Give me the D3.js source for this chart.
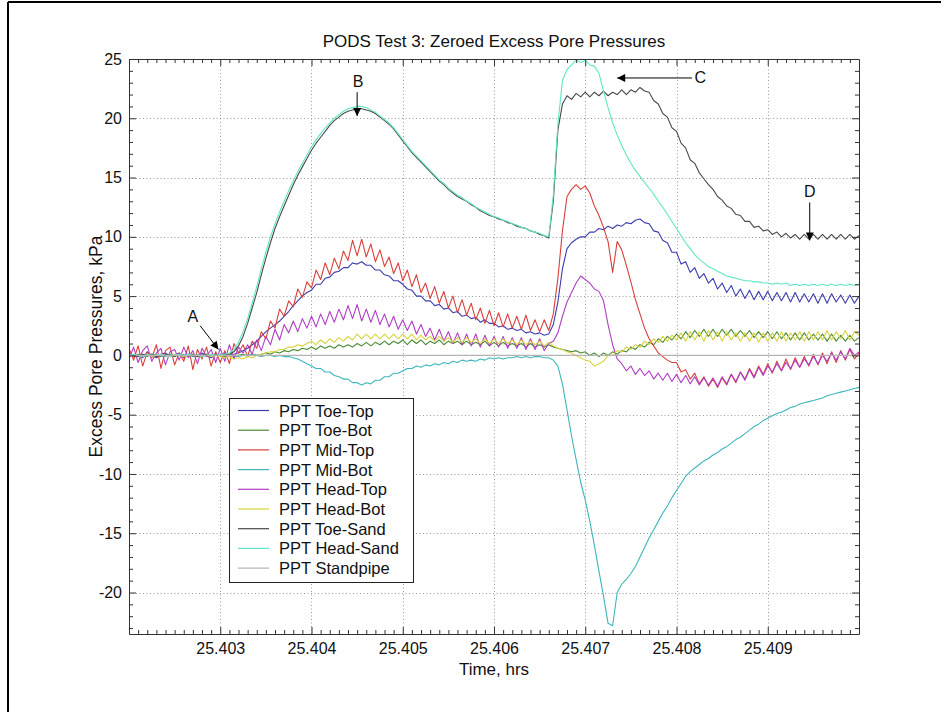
<!DOCTYPE html>
<html>
<head>
<meta charset="utf-8">
<script src="https://cdn.jsdelivr.net/npm/d3@7"></script>
<style>
  body { margin: 0; background: #fff; }
  svg text { font-family: Arial, "Liberation Sans", Helvetica, sans-serif; fill: #111; }
</style>
</head>
<body>
<svg id="chart" width="941" height="712"></svg>
<script>
// Logged record: first sample at startTime, last at endTime (hrs), evenly sampled.
const startTime = 25.402;
const endTime = 25.410;

const xTicks = [25.403, 25.404, 25.405, 25.406, 25.407, 25.408, 25.409];
const yTicks = [-20, -15, -10, -5, 0, 5, 10, 15, 20, 25];

const seriesNames = ["PPT Toe-Top", "PPT Toe-Bot", "PPT Mid-Top", "PPT Mid-Bot",
  "PPT Head-Top", "PPT Head-Bot", "PPT Toe-Sand", "PPT Head-Sand", "PPT Standpipe"];
const seriesColors = ["#3c3cae", "#4a8a34", "#d8403c", "#3db6bc",
  "#b23ec6", "#d6d43c", "#4a4a4a", "#5fe6c6", "#b4b4b4"];

// Excess pore pressure, kPa (161 samples each)
const toeTop = [
  0.2,-0.1,0.1,-0.2,0.3,0.0,-0.2,0.1,0.2,-0.1,0.0,0.2,-0.2,0.1,0.0,-0.1,0.2,0.0,-0.2,0.1,
  0.0,0.2,-0.1,0.1,0.2,0.4,0.6,0.9,1.2,1.6,2.0,2.3,2.6,2.9,3.3,3.7,4.2,4.6,5.0,5.3,
  5.5,6.0,6.0,6.5,6.6,7.0,7.1,7.4,7.4,7.8,7.7,7.9,7.6,7.6,7.2,7.2,6.8,6.7,6.3,6.3,
  6.0,5.6,5.5,5.0,5.0,4.6,4.6,4.2,4.3,3.9,4.0,3.6,3.7,3.3,3.4,3.1,3.2,2.8,3.0,2.7,
  2.7,2.4,2.5,2.2,2.3,2.1,2.2,1.9,2.0,1.8,1.9,1.7,1.8,2.6,4.5,7.3,9.0,9.5,9.8,10.0,
  10.0,10.4,10.4,10.7,10.6,10.9,10.7,11.0,10.9,11.2,11.1,11.4,11.5,11.2,11.1,10.5,10.4,9.7,9.5,8.7,
  8.7,7.7,7.9,7.0,7.4,6.5,6.9,6.1,6.5,5.6,6.1,5.3,5.9,5.0,5.6,4.8,5.5,4.7,5.4,4.7,
  5.4,4.6,5.3,4.6,5.3,4.5,5.3,4.5,5.2,4.5,5.2,4.4,5.2,4.4,5.2,4.5,5.1,4.4,5.1,4.4,
  5.0];

const toeBot = [
  0.1,-0.1,0.0,0.1,-0.1,0.1,0.0,-0.1,0.1,0.0,-0.1,0.1,0.0,0.1,-0.1,0.0,0.1,-0.1,0.0,0.1,
  0.0,-0.1,0.1,-0.1,0.0,0.1,-0.1,0.1,0.0,0.1,0.2,0.1,0.3,0.2,0.4,0.3,0.5,0.4,0.6,0.5,
  0.7,0.5,0.8,0.6,0.8,0.6,0.9,0.7,0.9,0.7,1.0,0.8,1.1,0.8,1.1,0.9,1.2,0.9,1.2,1.0,
  1.3,0.9,1.3,1.0,1.3,0.9,1.2,1.0,1.3,0.9,1.2,1.0,1.2,0.9,1.2,0.9,1.1,0.9,1.2,0.8,
  1.1,0.8,1.1,0.8,1.0,0.8,1.0,0.7,1.0,0.7,0.9,0.7,0.9,0.7,0.6,0.5,0.4,0.3,0.4,0.2,
  0.3,0.0,0.2,-0.1,0.2,0.0,0.3,0.1,0.4,0.3,0.7,0.5,0.9,0.7,1.1,0.9,1.4,1.1,1.6,1.3,
  1.8,1.4,2.0,1.5,2.1,1.6,2.2,1.6,2.2,1.6,2.2,1.7,2.2,1.6,2.1,1.6,2.1,1.5,2.0,1.5,
  2.0,1.4,2.0,1.4,1.9,1.3,1.9,1.3,1.9,1.3,1.8,1.3,1.8,1.2,1.8,1.2,1.7,1.2,1.7,1.2,
  1.5];

const midTop = [
  0.6,-0.4,0.8,-0.9,0.3,-0.2,0.9,-1.1,0.4,0.7,-0.8,0.2,-0.5,0.8,-1.2,0.5,-0.3,0.7,-0.9,0.3,
  -0.6,0.4,-0.7,1.0,0.2,0.9,-0.1,1.2,0.6,2.0,1.4,2.9,2.3,3.9,3.3,4.6,4.1,5.6,4.9,6.2,
  5.7,7.2,6.4,7.8,6.8,8.2,7.3,8.8,8.0,9.7,8.4,9.8,8.3,9.4,7.9,8.9,7.5,8.3,6.9,7.8,
  6.3,7.2,5.8,6.8,5.3,6.1,4.8,5.8,4.4,5.4,4.0,5.0,3.6,4.7,3.4,4.4,3.0,4.0,2.7,3.8,
  2.5,3.6,2.4,3.5,2.3,3.3,2.2,3.4,2.1,3.0,2.0,3.0,2.1,3.5,6.5,10.5,13.4,14.0,14.4,14.0,
  14.3,13.7,12.6,11.8,10.8,9.6,7.0,9.6,8.9,7.6,6.2,4.7,3.5,2.3,1.4,0.8,0.2,-0.1,-0.4,-0.6,
  -0.6,-1.4,-1.2,-2.0,-1.5,-2.4,-1.8,-2.6,-2.0,-2.7,-1.9,-2.5,-1.6,-2.3,-1.4,-2.0,-1.1,-1.8,-0.9,-1.6,
  -0.7,-1.5,-0.5,-1.3,-0.3,-1.2,-0.2,-1.0,-0.1,-0.9,0.1,-0.8,0.2,-0.7,0.3,-0.6,0.4,-0.4,0.5,-0.3,
  0.2];

const midBot = [
  0.0,0.1,0.0,-0.1,0.0,0.1,0.0,0.0,-0.1,0.1,0.0,0.0,0.1,-0.1,0.0,0.0,0.1,0.0,-0.1,0.0,
  0.0,0.1,0.0,0.0,-0.1,0.0,0.0,0.1,0.0,-0.1,0.0,0.0,-0.1,0.0,-0.1,-0.1,-0.2,-0.3,-0.5,-0.7,
  -0.9,-1.1,-1.1,-1.4,-1.4,-1.7,-1.8,-2.0,-2.0,-2.3,-2.3,-2.5,-2.3,-2.4,-2.1,-2.1,-1.8,-1.8,-1.5,-1.5,
  -1.3,-1.1,-1.1,-0.9,-1.0,-0.8,-0.9,-0.7,-0.8,-0.6,-0.7,-0.5,-0.6,-0.4,-0.5,-0.4,-0.5,-0.3,-0.4,-0.2,
  -0.3,-0.2,-0.3,-0.2,-0.2,-0.1,-0.2,-0.1,-0.2,-0.1,-0.1,-0.2,-0.2,-0.4,-0.9,-2.4,-4.6,-6.8,-8.8,-10.7,
  -12.2,-14.0,-16.0,-18.2,-20.3,-22.6,-22.8,-20.0,-19.3,-18.9,-18.4,-17.8,-17.0,-16.2,-15.4,-14.7,-14.0,-13.3,-12.7,-12.0,
  -11.4,-10.8,-10.2,-9.8,-9.5,-9.2,-8.9,-8.7,-8.4,-8.2,-7.9,-7.7,-7.4,-7.1,-6.9,-6.6,-6.3,-6.0,-5.8,-5.5,
  -5.3,-5.1,-4.9,-4.8,-4.6,-4.4,-4.3,-4.1,-4.0,-3.9,-3.8,-3.7,-3.6,-3.4,-3.3,-3.2,-3.1,-3.0,-2.9,-2.8,
  -2.7];

const headTop = [
  -0.3,0.7,-0.6,0.4,0.8,-0.5,0.2,0.6,-0.8,0.3,0.5,-0.4,0.7,-0.2,0.4,-0.7,0.6,-0.1,0.5,-0.6,
  0.6,-0.5,0.9,-0.3,0.7,0.2,0.9,0.1,1.3,0.4,1.6,0.9,2.2,1.3,2.6,1.9,2.9,2.0,3.1,2.3,
  3.3,2.4,3.5,2.6,3.7,2.8,3.9,3.0,4.2,3.1,4.3,2.9,3.9,2.8,3.8,2.6,3.5,2.4,3.3,2.2,
  3.0,2.1,2.9,1.8,2.6,1.6,2.3,1.3,2.2,1.2,2.0,1.0,1.9,0.9,1.8,0.8,1.8,0.7,1.7,0.8,
  1.6,0.7,1.6,0.6,1.5,0.6,1.5,0.5,1.4,0.5,1.4,0.4,1.0,1.2,1.9,3.3,4.5,5.3,6.1,6.7,
  6.4,6.1,5.6,5.4,4.6,2.6,0.9,-0.3,-0.7,-1.3,-0.9,-1.6,-1.1,-1.7,-1.3,-2.0,-1.5,-2.1,-1.5,-2.2,
  -1.6,-2.3,-1.7,-2.4,-1.8,-2.5,-1.9,-2.5,-1.9,-2.6,-1.8,-2.4,-1.6,-2.2,-1.4,-2.1,-1.2,-1.9,-1.0,-1.7,
  -0.9,-1.4,-0.7,-1.3,-0.6,-1.1,-0.4,-1.0,-0.3,-0.8,-0.1,-0.7,0.0,-0.5,0.2,-0.4,0.3,-0.3,0.6,0.0,
  0.3];

const headBot = [
  0.0,0.1,-0.1,0.0,0.1,-0.1,0.0,0.1,0.0,-0.1,0.1,0.0,-0.1,0.0,0.1,-0.1,0.0,0.1,-0.1,0.0,
  -0.1,-0.2,-0.1,-0.3,-0.2,-0.3,-0.1,-0.2,0.0,0.1,0.2,0.3,0.3,0.5,0.5,0.7,0.7,0.9,0.8,1.0,
  1.2,0.9,1.3,1.0,1.4,1.1,1.5,1.2,1.6,1.3,1.8,1.4,1.8,1.4,1.8,1.4,1.8,1.4,1.8,1.4,
  1.8,1.4,1.8,1.3,1.7,1.3,1.6,1.2,1.6,1.2,1.5,1.1,1.5,1.1,1.5,1.1,1.4,1.0,1.4,1.0,
  1.4,1.0,1.4,1.0,1.3,0.9,1.3,0.9,1.2,0.9,1.2,0.8,1.1,0.8,0.6,0.5,0.3,0.2,0.0,-0.2,
  -0.4,-0.5,-0.9,-0.7,-0.5,0.0,0.0,0.4,0.3,0.7,0.5,0.9,0.7,1.2,0.9,1.4,1.1,1.6,1.2,1.7,
  1.3,1.9,1.2,2.0,1.3,2.0,1.2,2.1,1.3,2.0,1.2,2.0,1.3,1.9,1.2,1.9,1.2,1.9,1.1,1.9,
  1.2,1.9,1.2,2.0,1.2,1.9,1.3,2.0,1.2,2.0,1.3,2.0,1.3,2.1,1.3,2.0,1.4,2.1,1.3,2.0,
  1.7];

const toeSand = [
  0.1,0.0,-0.1,0.1,0.0,0.1,-0.1,0.0,0.1,0.0,-0.1,0.1,0.0,0.0,0.1,-0.1,0.0,0.1,0.0,0.1,
  0.0,0.1,0.1,0.3,0.8,1.6,2.7,4.0,5.3,6.8,8.2,9.5,10.7,11.7,12.6,13.5,14.4,15.2,15.9,16.6,
  17.3,17.9,18.4,18.9,19.4,19.8,20.1,20.4,20.6,20.7,20.8,20.8,20.7,20.6,20.4,20.1,19.8,19.5,19.1,18.6,
  18.1,17.6,17.1,16.7,16.3,15.9,15.5,15.1,14.7,14.4,14.0,13.7,13.4,13.2,13.0,12.7,12.5,12.2,12.0,11.8,
  11.7,11.5,11.4,11.2,11.1,10.9,10.8,10.7,10.5,10.4,10.2,10.1,9.9,13.0,19.0,21.2,21.9,21.6,22.1,21.8,
  22.2,21.8,22.2,21.9,22.3,21.9,22.2,22.0,22.4,22.0,22.4,22.2,22.6,22.3,22.2,21.5,21.2,20.4,20.1,19.2,
  18.9,17.9,17.5,16.5,16.2,15.4,14.9,14.4,14.0,13.4,13.1,12.6,12.4,11.9,11.8,11.3,11.3,10.8,10.9,10.5,
  10.6,10.2,10.4,10.0,10.3,9.9,10.2,9.8,10.2,9.8,10.2,9.8,10.2,9.8,10.2,9.8,10.2,9.8,10.2,9.8,
  10.1];

const headSand = [
  0.0,0.1,0.0,-0.1,0.1,0.0,0.0,0.1,0.0,-0.1,0.0,0.1,0.0,0.1,0.0,0.0,-0.1,0.0,0.1,0.0,
  0.1,0.1,0.2,0.5,1.1,2.0,3.1,4.4,5.8,7.3,8.7,10.0,11.1,12.1,13.0,13.9,14.7,15.5,16.2,16.9,
  17.6,18.2,18.7,19.2,19.6,20.0,20.3,20.6,20.8,20.9,21.0,21.0,20.9,20.7,20.5,20.2,19.9,19.6,19.2,18.7,
  18.2,17.7,17.2,16.8,16.4,16.0,15.6,15.2,14.8,14.5,14.1,13.8,13.5,13.3,13.0,12.8,12.5,12.3,12.1,11.9,
  11.7,11.6,11.4,11.3,11.1,11.0,10.8,10.7,10.5,10.4,10.3,10.1,10.0,13.5,19.5,23.2,24.1,24.5,24.9,24.7,
  24.9,24.5,24.4,23.8,22.3,20.9,19.6,18.6,17.7,16.9,16.2,15.6,15.1,14.6,14.1,13.6,13.0,12.5,11.9,11.3,
  10.7,10.1,9.5,9.0,8.5,8.1,7.8,7.5,7.3,7.1,6.9,6.7,6.6,6.5,6.4,6.3,6.3,6.2,6.2,6.1,
  6.1,6.0,6.1,6.0,6.1,5.9,6.0,5.9,6.0,5.9,6.0,5.9,6.0,5.9,6.0,5.9,6.0,5.9,6.0,5.9,
  6.0];

// Standpipe, sampled every 0.001 hrs (9 samples)
const standpipe = [0, 0, 0, 0, 0, 0, 0, 0, 0];

const seriesValues = [toeTop, toeBot, midTop, midBot, headTop, headBot, toeSand, headSand, standpipe];

// Event markers: label, text position, arrow start and arrow tip (time hrs, kPa)
const markerLabels = ["A", "B", "C", "D"];
const markerText = [[25.40270, 3.3], [25.40451, 23.1], [25.40826, 23.4], [25.40946, 13.8]];
const markerFrom = [[25.40278, 2.5], [25.40450, 22.2], [25.40817, 23.4], [25.40946, 12.9]];
const markerTo   = [[25.40298, 0.5], [25.40450, 20.2], [25.40735, 23.4], [25.40946, 9.7]];

// ---------------------------------------------------------------
const svg = d3.select("#chart");
const plot = { left: 129, right: 859, top: 59, bottom: 634 };

const x = d3.scaleLinear().domain([startTime, endTime]).range([plot.left, plot.right]);
const y = d3.scaleLinear().domain([-23.5, 25]).range([plot.bottom, plot.top]);

// page frame
svg.append("line").attr("x1", 8).attr("x2", 941).attr("y1", 2).attr("y2", 2)
  .attr("stroke", "#000").attr("stroke-width", 2);
svg.append("line").attr("x1", 8).attr("x2", 8).attr("y1", 2).attr("y2", 712)
  .attr("stroke", "#000").attr("stroke-width", 2);

// plot background
svg.append("rect").attr("x", plot.left).attr("y", plot.top)
  .attr("width", plot.right - plot.left).attr("height", plot.bottom - plot.top)
  .attr("fill", "#fff");

// dotted grid at major ticks
const grid = svg.append("g").attr("stroke", "#9a9a9a").attr("stroke-width", 1)
  .attr("stroke-dasharray", "1,2.5");
grid.selectAll(".gx").data(xTicks).join("line")
  .attr("x1", d => Math.round(x(d)) + 0.5).attr("x2", d => Math.round(x(d)) + 0.5)
  .attr("y1", plot.top).attr("y2", plot.bottom);
grid.selectAll(".gy").data(yTicks).join("line")
  .attr("y1", d => Math.round(y(d)) + 0.5).attr("y2", d => Math.round(y(d)) + 0.5)
  .attr("x1", plot.left).attr("x2", plot.right);

// series lines
svg.append("clipPath").attr("id", "plotClip").append("rect")
  .attr("x", plot.left).attr("y", plot.top)
  .attr("width", plot.right - plot.left).attr("height", plot.bottom - plot.top);

const linesG = svg.append("g").attr("clip-path", "url(#plotClip)");
seriesValues.forEach((vals, k) => {
  const step = (endTime - startTime) / (vals.length - 1);
  const line = d3.line()
    .x((v, i) => x(startTime + i * step))
    .y(v => y(v));
  linesG.append("path")
    .attr("d", line(vals))
    .attr("fill", "none")
    .attr("stroke", seriesColors[k])
    .attr("stroke-width", 1.1)
    .attr("stroke-linejoin", "round");
});

// axes: ticks point inward on all four sides
const minorX = d3.range(25.4021, 25.40995, 0.0001).filter(v => Math.abs(v * 1000 - Math.round(v * 1000)) > 0.01);
const minorY = d3.range(-23, 25, 1).filter(v => v % 5 !== 0);

function styleAxis(g) {
  g.select(".domain").attr("stroke", "#333");
  g.selectAll(".tick line").attr("stroke", "#333");
}
const fmtX = d3.format(".3f");

svg.append("g").attr("transform", `translate(0,${plot.bottom})`)
  .call(d3.axisBottom(x).tickValues(xTicks).tickSize(-7).tickSizeOuter(0).tickPadding(9).tickFormat(fmtX))
  .call(styleAxis)
  .call(g => g.selectAll("text").attr("font-size", 16).attr("fill", "#111"));
svg.append("g").attr("transform", `translate(0,${plot.bottom})`)
  .call(d3.axisBottom(x).tickValues(minorX).tickSize(-4).tickSizeOuter(0).tickFormat(""))
  .call(styleAxis).call(g => g.select(".domain").remove());

svg.append("g").attr("transform", `translate(0,${plot.top})`)
  .call(d3.axisTop(x).tickValues(xTicks).tickSize(-7).tickSizeOuter(0).tickFormat(""))
  .call(styleAxis);
svg.append("g").attr("transform", `translate(0,${plot.top})`)
  .call(d3.axisTop(x).tickValues(minorX).tickSize(-4).tickSizeOuter(0).tickFormat(""))
  .call(styleAxis).call(g => g.select(".domain").remove());

svg.append("g").attr("transform", `translate(${plot.left},0)`)
  .call(d3.axisLeft(y).tickValues(yTicks).tickSize(-7).tickSizeOuter(0).tickPadding(7).tickFormat(d => String(d)))
  .call(styleAxis)
  .call(g => g.selectAll("text").attr("font-size", 16).attr("fill", "#111"));
svg.append("g").attr("transform", `translate(${plot.left},0)`)
  .call(d3.axisLeft(y).tickValues(minorY).tickSize(-4).tickSizeOuter(0).tickFormat(""))
  .call(styleAxis).call(g => g.select(".domain").remove());

svg.append("g").attr("transform", `translate(${plot.right},0)`)
  .call(d3.axisRight(y).tickValues(yTicks).tickSize(-7).tickSizeOuter(0).tickFormat(""))
  .call(styleAxis);
svg.append("g").attr("transform", `translate(${plot.right},0)`)
  .call(d3.axisRight(y).tickValues(minorY).tickSize(-4).tickSizeOuter(0).tickFormat(""))
  .call(styleAxis).call(g => g.select(".domain").remove());

// titles
svg.append("text").attr("x", (plot.left + plot.right) / 2).attr("y", 47)
  .attr("text-anchor", "middle").attr("font-size", 17)
  .text("PODS Test 3: Zeroed Excess Pore Pressures");
svg.append("text").attr("x", (plot.left + plot.right) / 2).attr("y", 675)
  .attr("text-anchor", "middle").attr("font-size", 17)
  .text("Time, hrs");
svg.append("text")
  .attr("transform", `translate(102,${(plot.top + plot.bottom) / 2}) rotate(-90)`)
  .attr("text-anchor", "middle").attr("font-size", 17.5)
  .text("Excess Pore Pressures, kPa");

// event markers
const defs = svg.append("defs");
defs.append("marker").attr("id", "arrowHead")
  .attr("viewBox", "0 0 10 10").attr("refX", 10).attr("refY", 5)
  .attr("markerWidth", 9).attr("markerHeight", 8).attr("markerUnits", "userSpaceOnUse")
  .attr("orient", "auto")
  .append("path").attr("d", "M0,0 L10,5 L0,10 Z").attr("fill", "#000");

markerLabels.forEach((lab, k) => {
  svg.append("line")
    .attr("x1", x(markerFrom[k][0])).attr("y1", y(markerFrom[k][1]))
    .attr("x2", x(markerTo[k][0])).attr("y2", y(markerTo[k][1]))
    .attr("stroke", "#000").attr("stroke-width", 1)
    .attr("marker-end", "url(#arrowHead)");
  svg.append("text")
    .attr("x", x(markerText[k][0])).attr("y", y(markerText[k][1]))
    .attr("text-anchor", "middle").attr("dominant-baseline", "central")
    .attr("font-size", 16).text(lab);
});

// legend
const legend = svg.append("g").attr("transform", "translate(229,398)");
legend.append("rect").attr("x", 0.5).attr("y", 0.5).attr("width", 184).attr("height", 184)
  .attr("fill", "#fff").attr("stroke", "#222").attr("stroke-width", 1);
seriesNames.forEach((name, k) => {
  const yy = 12.5 + k * 19.7;
  legend.append("line").attr("x1", 9).attr("x2", 40).attr("y1", yy).attr("y2", yy)
    .attr("stroke", seriesColors[k]).attr("stroke-width", 1.2);
  legend.append("text").attr("x", 50).attr("y", yy).attr("dominant-baseline", "central")
    .attr("font-size", 16.5).text(name);
});
</script>
</body>
</html>
